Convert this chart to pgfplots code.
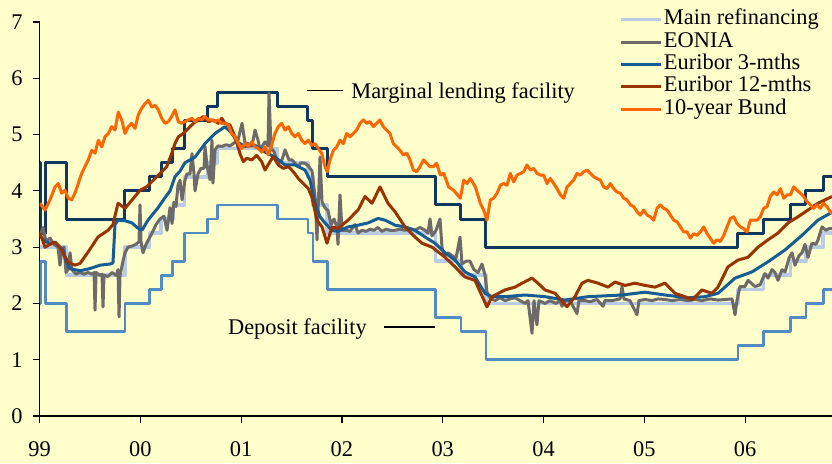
\documentclass[border=0pt]{standalone}
\usepackage{fontspec}
\setmainfont{Liberation Serif}
\usepackage{pgfplots}
\pgfplotsset{compat=1.18}
\definecolor{bg}{RGB}{255,255,204}
\definecolor{mro}{RGB}{184,204,228}
\definecolor{eonia}{RGB}{110,106,106}
\definecolor{eur3}{RGB}{22,92,150}
\definecolor{eur12}{RGB}{153,51,0}
\definecolor{bund}{RGB}{255,102,0}
\definecolor{marg}{RGB}{16,55,94}
\definecolor{depo}{RGB}{80,140,195}
\begin{document}
\fontsize{11.2}{13}\selectfont
\begin{tikzpicture}
\fill[bg] (-19.75pt,-23.5pt) rectangle (396.25pt,208pt);
\begin{axis}[
  at={(0,0)}, anchor=south west,
  scale only axis, width=396.25pt, height=197pt,
  xmin=1999, xmax=2006.862, ymin=0, ymax=7,
  axis x line=bottom, axis y line=left,
  axis line style={-, line width=0.6pt, black},
  xtick={1999,2000,2001,2002,2003,2004,2005,2006},
  xticklabels={99,00,01,02,03,04,05,06},
  ytick={0,1,2,3,4,5,6,7},
  tick align=outside, major tick length=3.5pt,
  tick style={black, line width=0.6pt},
  /pgf/number format/assume math mode=true,
  yticklabel style={inner sep=0pt, xshift=-4.75pt},
  xticklabel style={inner sep=0pt, yshift=-9pt},
  legend style={at={(0.7312,1.0355)}, anchor=north west, draw=none, fill=none,
    inner sep=0pt, row sep=0pt, column sep=0pt,
    nodes={inner sep=0.5pt, text height=7.6pt, text depth=2.6pt}},
  legend cell align=left,
  legend image code/.code={\draw[#1] (0pt,0pt) -- (20pt,0pt);},
  line join=round,
]
% Marginal lending facility
\addplot[const plot, marg, line width=1.5pt, forget plot] coordinates {
(1999.0,4.5)(1999.008,3.25)(1999.058,4.5)(1999.268,3.5)(1999.847,4.0)(2000.093,4.25)(2000.208,4.5)(2000.322,4.75)(2000.437,5.25)(2000.667,5.5)(2000.763,5.75)(2001.359,5.5)(2001.663,5.25)(2001.712,4.75)(2001.855,4.25)(2002.929,3.75)(2003.181,3.5)(2003.429,3.0)(2005.929,3.25)(2006.184,3.5)(2006.452,3.75)(2006.603,4.0)(2006.775,4.25)(2006.862,4.25)};
% Deposit facility
\addplot[const plot, depo, line width=1.3pt, forget plot] coordinates {
(1999.0,2.0)(1999.008,2.75)(1999.058,2.0)(1999.268,1.5)(1999.847,2.0)(2000.093,2.25)(2000.208,2.5)(2000.322,2.75)(2000.437,3.25)(2000.667,3.5)(2000.763,3.75)(2001.359,3.5)(2001.663,3.25)(2001.712,2.75)(2001.855,2.25)(2002.929,1.75)(2003.181,1.5)(2003.429,1.0)(2005.929,1.25)(2006.184,1.5)(2006.452,1.75)(2006.603,2.0)(2006.775,2.25)(2006.862,2.25)};
% Main refinancing
\addplot[const plot, mro, line width=1.8pt] coordinates {
(1999.0,3.0)(1999.268,2.5)(1999.847,3.0)(2000.093,3.25)(2000.208,3.5)(2000.322,3.75)(2000.437,4.25)(2000.667,4.5)(2000.763,4.75)(2001.359,4.5)(2001.663,4.25)(2001.712,3.75)(2001.855,3.25)(2002.929,2.75)(2003.181,2.5)(2003.429,2.0)(2005.929,2.25)(2006.184,2.5)(2006.452,2.75)(2006.603,3.0)(2006.775,3.25)(2006.862,3.25)};
\addlegendentry{Main refinancing}
% EONIA
\addplot[eonia, line width=1.5pt] coordinates {
(1999.005,3.2)(1999.035,3.35)(1999.064,3.1)(1999.104,3.16)(1999.144,3.05)(1999.184,3.0)(1999.203,2.68)(1999.223,2.95)(1999.243,3.0)(1999.263,2.55)(1999.283,2.6)(1999.303,2.9)(1999.322,2.6)(1999.362,2.52)(1999.402,2.55)(1999.441,2.52)(1999.481,2.55)(1999.521,2.52)(1999.541,2.55)(1999.551,1.88)(1999.561,2.55)(1999.600,2.5)(1999.620,2.52)(1999.630,1.94)(1999.640,2.5)(1999.680,2.48)(1999.719,2.55)(1999.759,2.5)(1999.779,2.6)(1999.789,1.76)(1999.799,2.5)(1999.828,2.75)(1999.848,2.9)(1999.878,3.0)(1999.918,3.02)(1999.957,3.05)(1999.987,3.1)(1999.997,3.75)(2000.007,3.1)(2000.027,2.9)(2000.057,3.05)(2000.086,3.15)(2000.116,3.25)(2000.156,3.4)(2000.195,3.5)(2000.235,3.55)(2000.265,3.3)(2000.295,3.7)(2000.315,3.42)(2000.334,3.8)(2000.354,3.72)(2000.374,4.1)(2000.394,4.19)(2000.414,3.84)(2000.443,4.19)(2000.463,4.3)(2000.493,4.3)(2000.513,4.66)(2000.533,4.3)(2000.543,4.0)(2000.572,4.3)(2000.602,4.4)(2000.632,4.4)(2000.642,4.79)(2000.662,4.45)(2000.692,4.2)(2000.711,4.9)(2000.721,4.14)(2000.741,4.73)(2000.771,4.8)(2000.810,4.79)(2000.850,4.82)(2000.890,4.8)(2000.929,4.85)(2000.969,4.9)(2001.009,5.2)(2001.039,4.85)(2001.068,4.84)(2001.108,4.8)(2001.138,5.08)(2001.168,4.9)(2001.188,4.73)(2001.237,4.87)(2001.267,4.8)(2001.277,5.74)(2001.297,4.75)(2001.326,4.7)(2001.366,4.49)(2001.406,4.55)(2001.436,4.73)(2001.475,4.55)(2001.505,4.55)(2001.565,4.43)(2001.594,4.5)(2001.634,4.49)(2001.664,4.45)(2001.704,4.35)(2001.733,3.9)(2001.753,3.13)(2001.783,4.6)(2001.803,3.8)(2001.832,3.7)(2001.862,3.65)(2001.892,3.4)(2001.922,3.5)(2001.951,3.35)(2001.961,3.05)(2001.981,3.93)(2002.001,3.3)(2002.041,3.3)(2002.080,3.28)(2002.130,3.4)(2002.160,3.25)(2002.200,3.3)(2002.239,3.28)(2002.279,3.32)(2002.318,3.3)(2002.358,3.35)(2002.398,3.28)(2002.438,3.32)(2002.477,3.3)(2002.527,3.3)(2002.576,3.32)(2002.626,3.3)(2002.676,3.33)(2002.725,3.3)(2002.775,3.35)(2002.824,3.3)(2002.854,3.25)(2002.874,3.5)(2002.894,3.2)(2002.934,3.3)(2002.973,3.5)(2002.993,3.0)(2003.013,2.85)(2003.053,2.9)(2003.092,2.85)(2003.132,2.8)(2003.172,3.18)(2003.191,2.7)(2003.231,2.75)(2003.271,2.75)(2003.310,2.6)(2003.350,2.55)(2003.390,2.7)(2003.420,2.5)(2003.439,2.2)(2003.469,2.1)(2003.519,2.05)(2003.568,2.1)(2003.618,2.05)(2003.668,2.08)(2003.717,2.1)(2003.767,2.05)(2003.816,2.0)(2003.846,2.05)(2003.886,1.47)(2003.906,2.05)(2003.935,1.62)(2003.955,2.05)(2004.015,2.0)(2004.064,2.05)(2004.124,2.0)(2004.164,2.05)(2004.183,1.95)(2004.223,2.05)(2004.263,2.05)(2004.332,1.82)(2004.352,2.05)(2004.412,2.05)(2004.461,2.03)(2004.531,2.07)(2004.590,1.95)(2004.610,2.05)(2004.680,2.05)(2004.759,2.08)(2004.779,2.3)(2004.798,2.08)(2004.858,2.05)(2004.927,1.8)(2004.947,2.05)(2005.007,2.07)(2005.076,2.05)(2005.136,2.08)(2005.205,2.07)(2005.275,2.05)(2005.354,2.07)(2005.433,2.05)(2005.503,2.07)(2005.572,2.05)(2005.652,2.08)(2005.731,2.06)(2005.800,2.07)(2005.870,2.08)(2005.900,1.8)(2005.919,2.05)(2005.949,2.3)(2005.999,2.3)(2006.029,2.41)(2006.068,2.35)(2006.098,2.3)(2006.148,2.33)(2006.197,2.53)(2006.227,2.45)(2006.267,2.6)(2006.296,2.55)(2006.326,2.41)(2006.366,2.6)(2006.396,2.56)(2006.435,2.8)(2006.465,2.9)(2006.495,2.68)(2006.535,2.85)(2006.564,2.9)(2006.594,3.05)(2006.624,2.82)(2006.663,3.07)(2006.703,3.05)(2006.723,3.13)(2006.763,3.36)(2006.802,3.3)(2006.832,3.33)(2006.862,3.33)};
\addlegendentry{EONIA}
% Euribor 3 months
\addplot[eur3, line width=1.5pt] coordinates {
(1999.005,3.2)(1999.055,3.1)(1999.104,3.07)(1999.154,3.08)(1999.203,3.0)(1999.233,2.95)(1999.263,2.75)(1999.303,2.62)(1999.402,2.58)(1999.501,2.62)(1999.600,2.68)(1999.699,2.7)(1999.729,2.72)(1999.749,3.4)(1999.779,3.48)(1999.848,3.47)(1999.918,3.43)(1999.967,3.35)(2000.017,3.3)(2000.076,3.48)(2000.176,3.7)(2000.245,3.88)(2000.295,4.0)(2000.344,4.25)(2000.394,4.35)(2000.443,4.5)(2000.543,4.6)(2000.642,4.84)(2000.741,5.02)(2000.840,5.14)(2000.910,5.02)(2000.959,4.87)(2001.039,4.79)(2001.138,4.81)(2001.237,4.69)(2001.336,4.6)(2001.436,4.46)(2001.535,4.46)(2001.634,4.37)(2001.684,4.19)(2001.733,3.78)(2001.783,3.54)(2001.832,3.43)(2001.902,3.3)(2001.961,3.28)(2002.061,3.36)(2002.160,3.39)(2002.259,3.43)(2002.358,3.51)(2002.428,3.48)(2002.527,3.39)(2002.626,3.36)(2002.725,3.3)(2002.824,3.18)(2002.924,3.07)(2003.023,2.9)(2003.122,2.77)(2003.221,2.56)(2003.320,2.47)(2003.420,2.18)(2003.489,2.12)(2003.618,2.12)(2003.816,2.15)(2004.015,2.12)(2004.213,2.06)(2004.441,2.12)(2004.779,2.15)(2005.007,2.2)(2005.205,2.15)(2005.433,2.1)(2005.602,2.12)(2005.731,2.18)(2005.800,2.29)(2005.900,2.45)(2006.068,2.56)(2006.227,2.74)(2006.396,2.95)(2006.564,3.21)(2006.723,3.48)(2006.862,3.62)};
\addlegendentry{Euribor 3-mths}
% Euribor 12 months
\addplot[eur12, line width=1.5pt] coordinates {
(1999.005,3.25)(1999.055,3.0)(1999.104,3.05)(1999.154,3.09)(1999.203,3.0)(1999.283,2.73)(1999.352,2.68)(1999.402,2.71)(1999.481,2.91)(1999.580,3.18)(1999.680,3.3)(1999.729,3.4)(1999.779,3.78)(1999.848,3.69)(1999.947,3.9)(1999.997,4.01)(2000.063,4.07)(2000.129,4.19)(2000.195,4.31)(2000.262,4.43)(2000.311,4.66)(2000.344,4.84)(2000.377,4.96)(2000.427,5.02)(2000.477,5.11)(2000.526,5.20)(2000.576,5.26)(2000.625,5.32)(2000.675,5.23)(2000.725,5.26)(2000.774,5.20)(2000.807,5.29)(2000.840,5.20)(2000.890,5.17)(2000.940,4.96)(2000.989,4.66)(2001.022,4.52)(2001.055,4.58)(2001.105,4.55)(2001.155,4.63)(2001.204,4.52)(2001.237,4.37)(2001.287,4.52)(2001.320,4.61)(2001.369,4.46)(2001.419,4.40)(2001.469,4.43)(2001.518,4.34)(2001.568,4.22)(2001.617,4.13)(2001.667,4.04)(2001.700,3.90)(2001.753,3.48)(2001.803,3.36)(2001.852,3.07)(2001.902,3.36)(2001.961,3.33)(2002.061,3.48)(2002.160,3.66)(2002.229,3.9)(2002.299,3.78)(2002.378,4.07)(2002.457,3.78)(2002.527,3.63)(2002.626,3.36)(2002.725,3.18)(2002.795,3.07)(2002.894,3.0)(2003.023,2.82)(2003.122,2.65)(2003.221,2.47)(2003.320,2.41)(2003.439,1.94)(2003.489,2.12)(2003.618,2.24)(2003.717,2.29)(2003.787,2.36)(2003.886,2.45)(2003.945,2.36)(2004.015,2.24)(2004.114,2.18)(2004.233,1.94)(2004.312,2.12)(2004.382,2.36)(2004.441,2.41)(2004.541,2.36)(2004.640,2.29)(2004.709,2.38)(2004.808,2.32)(2004.908,2.36)(2005.007,2.32)(2005.106,2.29)(2005.205,2.36)(2005.304,2.18)(2005.433,2.1)(2005.473,2.06)(2005.572,2.24)(2005.671,2.18)(2005.731,2.29)(2005.830,2.65)(2005.929,2.77)(2006.029,2.82)(2006.128,3.0)(2006.227,3.13)(2006.326,3.25)(2006.425,3.43)(2006.525,3.54)(2006.624,3.66)(2006.723,3.78)(2006.862,3.9)};
\addlegendentry{Euribor 12-mths}
% 10-year Bund
\addplot[bund, line width=1.5pt] coordinates {
(1999.005,3.78)(1999.055,3.66)(1999.104,3.84)(1999.154,4.07)(1999.187,4.13)(1999.220,3.96)(1999.253,4.01)(1999.286,3.87)(1999.319,3.84)(1999.352,3.96)(1999.385,4.13)(1999.418,4.31)(1999.451,4.43)(1999.484,4.55)(1999.518,4.72)(1999.551,4.67)(1999.584,4.9)(1999.617,4.78)(1999.650,4.96)(1999.683,5.02)(1999.716,5.14)(1999.749,5.08)(1999.782,5.40)(1999.815,5.26)(1999.848,5.02)(1999.881,5.14)(1999.914,5.2)(1999.947,5.11)(1999.980,5.35)(2000.014,5.47)(2000.047,5.55)(2000.080,5.61)(2000.113,5.49)(2000.146,5.52)(2000.179,5.44)(2000.212,5.29)(2000.245,5.2)(2000.278,5.23)(2000.311,5.32)(2000.344,5.44)(2000.377,5.23)(2000.410,5.2)(2000.443,5.23)(2000.477,5.26)(2000.510,5.29)(2000.543,5.23)(2000.576,5.29)(2000.609,5.26)(2000.642,5.32)(2000.675,5.26)(2000.708,5.26)(2000.741,5.23)(2000.774,5.26)(2000.807,5.2)(2000.840,5.2)(2000.873,5.17)(2000.906,5.02)(2000.940,4.96)(2000.973,4.84)(2001.006,4.75)(2001.039,4.84)(2001.072,4.78)(2001.105,4.87)(2001.138,4.78)(2001.171,4.75)(2001.204,4.69)(2001.237,4.78)(2001.270,4.64)(2001.303,4.81)(2001.336,5.02)(2001.369,5.14)(2001.402,5.2)(2001.436,5.08)(2001.469,5.14)(2001.502,5.02)(2001.535,4.96)(2001.568,5.02)(2001.601,4.9)(2001.634,4.84)(2001.667,4.9)(2001.700,4.81)(2001.733,4.84)(2001.766,4.75)(2001.799,4.67)(2001.832,4.43)(2001.855,4.34)(2001.882,4.55)(2001.915,4.72)(2001.948,4.78)(2001.981,4.9)(2002.014,4.84)(2002.047,5.02)(2002.080,4.96)(2002.113,5.02)(2002.146,5.08)(2002.180,5.2)(2002.213,5.26)(2002.246,5.2)(2002.279,5.23)(2002.312,5.14)(2002.345,5.2)(2002.378,5.26)(2002.411,5.14)(2002.444,5.08)(2002.477,5.02)(2002.510,4.84)(2002.543,4.78)(2002.576,4.72)(2002.609,4.64)(2002.643,4.67)(2002.676,4.55)(2002.709,4.37)(2002.742,4.34)(2002.775,4.43)(2002.808,4.55)(2002.841,4.49)(2002.874,4.43)(2002.907,4.43)(2002.940,4.49)(2002.977,4.28)(2003.010,4.31)(2003.059,4.07)(2003.109,4.01)(2003.175,3.87)(2003.208,4.19)(2003.241,4.13)(2003.274,4.22)(2003.324,4.07)(2003.373,3.78)(2003.406,3.66)(2003.439,3.48)(2003.473,3.84)(2003.506,3.87)(2003.539,3.96)(2003.572,4.10)(2003.605,4.13)(2003.638,4.10)(2003.671,4.31)(2003.704,4.16)(2003.737,4.28)(2003.770,4.31)(2003.803,4.34)(2003.836,4.46)(2003.869,4.37)(2003.902,4.40)(2003.936,4.31)(2003.969,4.28)(2004.002,4.28)(2004.035,4.13)(2004.068,4.22)(2004.101,4.13)(2004.134,4.04)(2004.167,3.93)(2004.200,3.87)(2004.233,4.07)(2004.266,4.13)(2004.299,4.19)(2004.332,4.31)(2004.365,4.28)(2004.399,4.34)(2004.432,4.37)(2004.465,4.31)(2004.498,4.25)(2004.531,4.22)(2004.564,4.19)(2004.597,4.07)(2004.630,4.04)(2004.663,4.13)(2004.696,4.04)(2004.729,3.98)(2004.762,3.96)(2004.795,3.87)(2004.828,3.84)(2004.862,3.75)(2004.895,3.72)(2004.928,3.63)(2004.961,3.57)(2004.994,3.66)(2005.027,3.57)(2005.060,3.54)(2005.093,3.48)(2005.126,3.69)(2005.159,3.75)(2005.192,3.69)(2005.225,3.66)(2005.258,3.57)(2005.291,3.48)(2005.325,3.45)(2005.358,3.36)(2005.391,3.27)(2005.424,3.27)(2005.457,3.16)(2005.490,3.24)(2005.523,3.21)(2005.556,3.27)(2005.589,3.36)(2005.622,3.24)(2005.655,3.16)(2005.688,3.07)(2005.721,3.13)(2005.754,3.10)(2005.788,3.21)(2005.821,3.36)(2005.854,3.51)(2005.887,3.54)(2005.920,3.42)(2005.953,3.36)(2005.986,3.33)(2006.019,3.27)(2006.052,3.48)(2006.085,3.48)(2006.118,3.48)(2006.151,3.54)(2006.184,3.69)(2006.217,3.72)(2006.250,3.90)(2006.283,3.98)(2006.317,3.93)(2006.350,4.04)(2006.383,3.87)(2006.416,3.93)(2006.449,3.93)(2006.482,4.07)(2006.515,4.01)(2006.548,3.96)(2006.581,3.90)(2006.614,3.81)(2006.647,3.75)(2006.680,3.69)(2006.713,3.75)(2006.746,3.69)(2006.779,3.78)(2006.812,3.72)(2006.845,3.63)(2006.862,3.60)};
\addlegendentry{10-year Bund}
% annotations
\draw[line width=0.6pt] (axis cs:2001.651,5.778) -- (axis cs:2002.014,5.778);
\node[anchor=base west, inner sep=0pt] at (axis cs:2002.09,5.65) {Marginal lending facility};
\node[anchor=base west, inner sep=0pt] at (axis cs:2000.867,1.44) {Deposit facility};
\draw[line width=0.6pt] (axis cs:2002.418,1.58) -- (axis cs:2002.924,1.58);
\end{axis}
\pgfresetboundingbox
\path[use as bounding box] (-19.75pt,-23.5pt) rectangle (396.25pt,208pt);
\end{tikzpicture}
\end{document}
